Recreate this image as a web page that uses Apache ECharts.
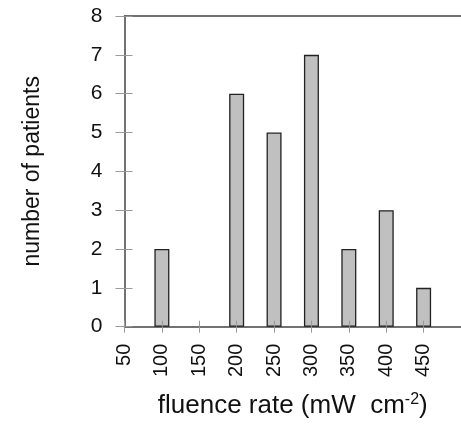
<!DOCTYPE html>
<html>
<head>
<meta charset="utf-8">
<script src="https://cdn.jsdelivr.net/npm/echarts@6/dist/echarts.min.js"></script>
<style>
html,body{margin:0;padding:0;background:#fff;}
#chart{width:461px;height:424px;}
</style>
</head>
<body>
<div id="chart"></div>
<script>
var fluenceRates = [100, 150, 200, 250, 300, 350, 400, 450];
var patientCounts = [2, 0, 6, 5, 7, 2, 3, 1];
var xTickLabels = [50, 100, 150, 200, 250, 300, 350, 400, 450];
var yTickLabels = [0, 1, 2, 3, 4, 5, 6, 7, 8];

var FONT = 'Liberation Sans, Arial, sans-serif';
var chart = echarts.init(document.getElementById('chart'));
var barData = [];
fluenceRates.forEach(function (f, i) { if (patientCounts[i] > 0) barData.push([f, patientCounts[i]]); });

chart.setOption({
  animation: false,
  grid: { left: 124.5, top: 16, width: 340, bottom: 97.3 },
  xAxis: [
    {
      type: 'value', min: 50, max: 500, interval: 50, position: 'bottom',
      axisLine: { lineStyle: { color: '#444', width: 1.5 } },
      axisTick: { show: true, inside: false, length: 6, lineStyle: { color: '#999', width: 1 } },
      splitLine: { show: false },
      axisLabel: {
        rotate: 90, margin: 17, fontSize: 20, fontFamily: FONT, color: '#111',
        showMaxLabel: false,
        formatter: function (v) { return xTickLabels.indexOf(v) >= 0 ? String(v) : ''; }
      },
      name: '{a|fluence rate (mW  cm}{s|-2}{a|)}',
      nameLocation: 'middle', nameGap: 65,
      nameTextStyle: {
        rich: {
          a: { fontSize: 26, fontFamily: FONT, color: '#111' },
          s: { fontSize: 16, fontFamily: FONT, color: '#111', verticalAlign: 'top', padding: [0, 0, 12, 0] }
        }
      }
    },
    {
      type: 'value', min: 50, max: 500, interval: 50, position: 'bottom', z: 10,
      axisLine: { show: false },
      axisTick: { show: true, inside: true, length: 6, lineStyle: { color: '#999', width: 1 } },
      axisLabel: { show: false }, splitLine: { show: false }
    },
    {
      type: 'value', min: 50, max: 500, position: 'top',
      axisLine: { show: true, lineStyle: { color: '#444', width: 1.5 } },
      axisTick: { show: false }, axisLabel: { show: false }, splitLine: { show: false }
    }
  ],
  yAxis: [
    {
      type: 'value', min: 0, max: 8, interval: 1, position: 'left',
      axisLine: { show: true, lineStyle: { color: '#444', width: 1.5 } },
      axisTick: { show: true, inside: false, length: 9, lineStyle: { color: '#999', width: 1 } },
      splitLine: { show: false },
      axisLabel: {
        margin: 22, fontSize: 21, fontFamily: FONT, color: '#111',
        formatter: function (v) { return yTickLabels.indexOf(v) >= 0 ? String(v) : ''; }
      },
      name: 'number of patients', nameLocation: 'middle', nameGap: 80, nameRotate: 90,
      nameTextStyle: { fontSize: 23, fontFamily: FONT, color: '#111' }
    },
    {
      type: 'value', min: 0, max: 8, interval: 1, position: 'left', z: 10,
      axisLine: { show: false },
      axisTick: { show: true, inside: true, length: 8, lineStyle: { color: '#999', width: 1 } },
      axisLabel: { show: false }, splitLine: { show: false }
    }
  ],
  series: [{
    type: 'bar',
    xAxisIndex: 0, yAxisIndex: 0,
    data: barData,
    barWidth: 15,
    itemStyle: { color: '#c0c0c0', borderColor: '#222', borderWidth: 1.3 }
  }]
});
</script>
</body>
</html>
